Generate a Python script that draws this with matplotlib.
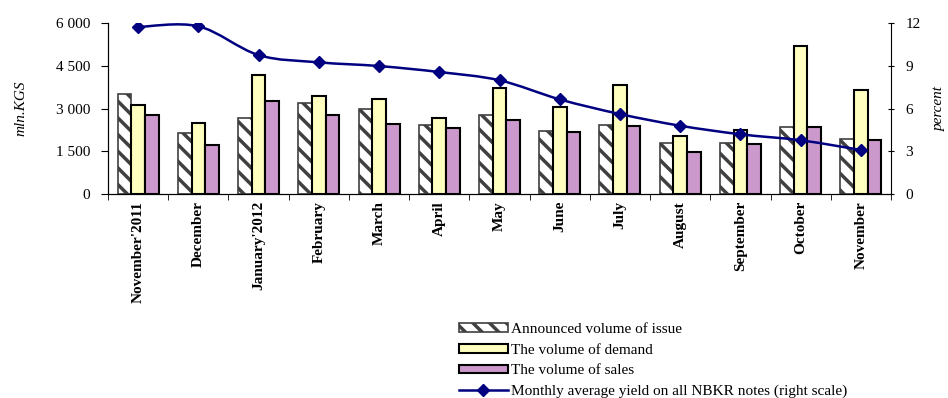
import matplotlib
matplotlib.use("Agg")
import matplotlib.pyplot as plt
import numpy as np
from matplotlib.path import Path
from matplotlib.patches import PathPatch, Patch
from matplotlib.lines import Line2D

### data ###
months = ["November'2011", "December", "January'2012", "February", "March", "April",
          "May", "June", "July", "August", "September", "October", "November"]
announced = [3500, 2150, 2670, 3200, 3000, 2420, 2760, 2200, 2420, 1800, 1800, 2350, 1920]
demand = [3120, 2480, 4180, 3440, 3340, 2670, 3730, 3040, 3840, 2020, 2250, 5200, 3660]
sales = [2770, 1720, 3260, 2770, 2460, 2320, 2610, 2160, 2400, 1490, 1770, 2350, 1900]
yield_pct = [11.72, 11.77, 9.75, 9.24, 8.98, 8.56, 7.98, 6.64, 5.61, 4.79, 4.19, 3.77, 3.09]

plt.rcParams['font.family'] = ['Liberation Serif', 'DejaVu Serif']
plt.rcParams['hatch.linewidth'] = 2.5
plt.rcParams['hatch.color'] = '#404040'

fig = plt.figure(figsize=(9.48, 3.98), dpi=100)
ax = fig.add_axes([108/948, 1 - 194/398, (891-108)/948, (194-23)/398])
ax2 = ax.twinx()

x = np.arange(len(months))
w = 0.227
ax.bar(x - w, announced, w, color='white', edgecolor='#404040', hatch='\\\\', linewidth=1.2, zorder=2)
ax.bar(x, demand, w, color='#FFFFC0', edgecolor='black', linewidth=1.5, zorder=2)
ax.bar(x + w, sales, w, color='#CC99CC', edgecolor='black', linewidth=1.5, zorder=2)

ax.set_xlim(-0.5, len(months) - 0.5)
ax.set_ylim(0, 6000)
ax.set_yticks([0, 1500, 3000, 4500, 6000])
ax.set_yticklabels(['0', '1 500', '3 000', '4 500', '6 000'])
ax.set_xticks(x)
ax.set_xticklabels(months, rotation=90, fontweight='bold', fontsize=11)
ax.set_xticks(np.arange(len(months) + 1) - 0.5, minor=True)
ax.tick_params(axis='x', which='major', length=0, pad=5)
ax.tick_params(axis='x', which='minor', length=4, direction='out')
ax.tick_params(axis='y', labelsize=11, length=5, direction='out', pad=8)
ax.set_ylabel('mln.KGS', fontstyle='italic', fontsize=11, labelpad=20)
ax.spines['top'].set_visible(False)
ax.spines['right'].set_visible(False)

# smoothed yield line (Excel-like bezier through the points)
ax2.set_ylim(0, 12)
ax2.set_yticks([0, 3, 6, 9, 12])
ax2.tick_params(axis='y', labelsize=11, length=5, direction='inout', pad=8)
ax2.set_ylabel('percent', fontstyle='italic', fontsize=11, labelpad=9)
ax2.spines['top'].set_visible(False)

pts = np.column_stack([x, yield_pct])
verts = [pts[0]]
codes = [Path.MOVETO]
n = len(pts)
for i in range(n - 1):
    p0 = pts[max(i - 1, 0)]
    p1 = pts[i]
    p2 = pts[i + 1]
    p3 = pts[min(i + 2, n - 1)]
    verts += [p1 + (p2 - p0) / 6, p2 - (p3 - p1) / 6, p2]
    codes += [Path.CURVE4] * 3
ax2.add_patch(PathPatch(Path(verts, codes), fill=False, edgecolor='#000080', linewidth=1.8, zorder=3))
ax2.plot(x, yield_pct, linestyle='none', marker='D', markersize=6, color='#000080', zorder=4)

handles = [
    Patch(facecolor='white', edgecolor='#404040', hatch='\\\\', linewidth=1.2),
    Patch(facecolor='#FFFFC0', edgecolor='black', linewidth=1.5),
    Patch(facecolor='#CC99CC', edgecolor='black', linewidth=1.5),
    Line2D([0], [0], color='#000080', linewidth=1.8, marker='D', markersize=6),
]
labels = ['Announced volume of issue', 'The volume of demand', 'The volume of sales',
          'Monthly average yield on all NBKR notes (right scale)']
fig.legend(handles, labels, loc='upper left', bbox_to_anchor=(459/948, 1 - 323/398),
           frameon=False, fontsize=11, handlelength=3.2, handleheight=0.5,
           handletextpad=0.2, labelspacing=0.5, borderpad=0, borderaxespad=0)

fig.savefig('out.png', dpi=100)
